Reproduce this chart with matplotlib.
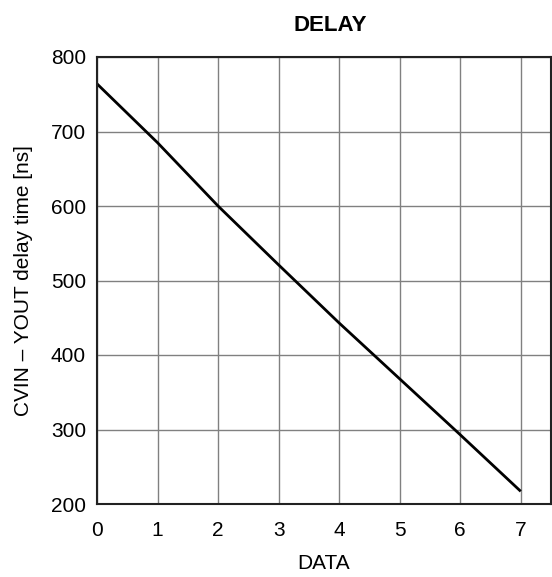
import matplotlib
matplotlib.use("Agg")
import matplotlib.pyplot as plt

data_x = [0, 1, 2, 3, 4, 5, 6, 7]
delay_ns = [764, 685, 600, 521, 443, 368, 293, 217]
x_ticks = [0, 1, 2, 3, 4, 5, 6, 7]
y_ticks = [200, 300, 400, 500, 600, 700, 800]

plt.rcParams['font.family'] = ['Liberation Sans', 'DejaVu Sans']

fig = plt.figure(figsize=(5.52, 5.77), dpi=100)
ax = fig.add_axes([97/552, 1 - 504/577, (551-97)/552, (504-57)/577])
ax.plot(data_x, delay_ns, color='black', lw=2, solid_capstyle='butt')
ax.set_xlim(0, 7.5)
ax.set_ylim(200, 800)
ax.set_xticks(x_ticks)
ax.set_yticks(y_ticks)
ax.grid(True, color='#808080', lw=1)
ax.set_axisbelow(True)
ax.tick_params(length=0, labelsize=15)
ax.tick_params(axis='x', pad=12)
ax.tick_params(axis='y', pad=8)
for s in ax.spines.values():
    s.set_color('#222222')
    s.set_linewidth(1.5)
ax.set_title('DELAY', fontsize=16, fontweight='bold', pad=19, x=0.513)
ax.set_xlabel('DATA', fontsize=15, labelpad=10)
ax.set_ylabel('CVIN \u2013 YOUT delay time [ns]', fontsize=15, labelpad=13)
fig.savefig('out.png', dpi=100)
